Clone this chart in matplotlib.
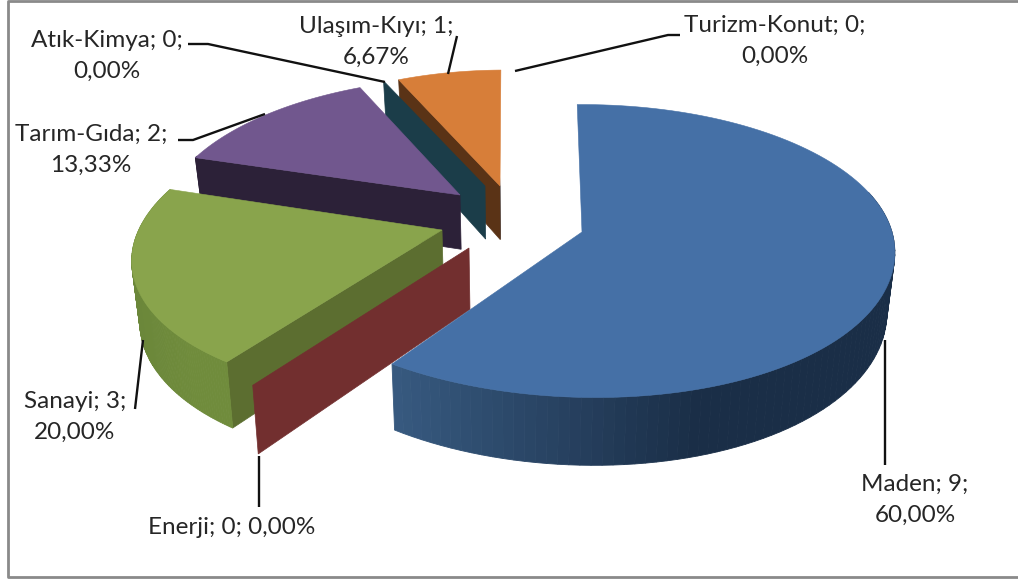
import numpy as np
import matplotlib
matplotlib.use('Agg')
import matplotlib.pyplot as plt
from matplotlib.colors import to_rgb

plt.rcParams['font.family'] = ['Lato', 'DejaVu Sans']

categories = ['Maden', 'Enerji', 'Sanayi', 'Tarım-Gıda', 'Atık-Kimya', 'Ulaşım-Kıyı', 'Turizm-Konut']
values = [9, 0, 3, 2, 0, 1, 0]

# placement of each exploded slice, in pixels
apex = [(582, 232), (469, 248), (442, 230), (460, 195), (485, 186), (500, 186), (500, 186)]
scale = [1.0, 1.04, 1.0, 0.92, 0.90, 0.91, 0.90]
# arc nudges: constant, linear in depth, and bulge toward the viewer
nudge = [(0, 0, 12), (-8, 0, 0), (6.7, -26, 0), (-7.7, -19, 0), (5, 0, 0), (6.5, 0, 0), (0, 0, 0)]
top_colors = ['#4570A6', '#722F2F', '#89A44C', '#71578E', '#1B3D49', '#D77E39', '#2C4D75']
side_colors = ['#1A2E47', '#722F2F', '#5C6E30', '#2C2138', '#1B3D49', '#5A3316', '#2C4D75']
rim_left = ['#37597F', '#722F2F', '#6B873A', '#2C2138', '#1B3D49', '#5A3316', '#2C4D75']
rim_right = ['#1A2E47', '#722F2F', '#708C3C', '#2C2138', '#1B3D49', '#5A3316', '#2C4D75']

RX, RY, PERSP = 310, 144, 0.13
DEPTH, VX, SHRINK = 59, 515, 0.979


def top_point(i, theta):
    u, v = np.sin(theta), -np.cos(theta)
    k = scale[i] / (1 - PERSP * v)
    a, b, c = nudge[i]
    x = apex[i][0] + k * (RX * u + a + b * v + c * np.maximum(v, 0) ** 2)
    y = apex[i][1] + k * RY * v
    return x, y


def low_point(x, y, k):
    return VX + (np.asarray(x) - VX) * SHRINK, np.asarray(y) + DEPTH * k


def depth_k(i, theta):
    return scale[i] / (1 + PERSP * np.cos(theta))


def side_wall(ax, i, theta):
    ax0, ay0 = apex[i]
    x1, y1 = top_point(i, theta)
    lx0, ly0 = low_point(ax0, ay0, scale[i])
    lx1, ly1 = low_point(x1, y1, depth_k(i, theta))
    ax.fill([ax0, x1, lx1, lx0], [ay0, y1, ly1, ly0], color=side_colors[i], lw=0.5, zorder=order[i])


fig = plt.figure(figsize=(10.18, 5.81), dpi=100)
ax = fig.add_axes([0, 0, 1, 1])
ax.set_xlim(0, 1018)
ax.set_ylim(581, 0)
ax.axis('off')

total = sum(values)
edges = np.radians(np.concatenate([[0], np.cumsum(values)]) / total * 360 - 1)
# back slices first, Maden goes on top of everything
order = [7, 6, 5, 4, 3, 2, 1]

for i in range(len(values)):
    t0, t1 = edges[i], edges[i + 1]
    # only the wall at the start of a slice faces us, Maden's faces away
    if i != 0:
        side_wall(ax, i, t0)
    if values[i] == 0:
        continue
    ts = np.linspace(t0, t1, 120)
    xs, ys = top_point(i, ts)
    lx, ly = low_point(xs, ys, depth_k(i, ts))
    # outer rim, only the part facing us, shaded left to right
    c0, c1 = np.array(to_rgb(rim_left[i])), np.array(to_rgb(rim_right[i]))
    xmin, xmax = lx.min(), lx.max()
    for j in range(len(ts) - 1):
        if -np.cos(ts[j]) < -0.3:
            continue
        f = np.clip(((lx[j] - xmin) / (xmax - xmin) - 0.02) / 0.6, 0, 1)
        ax.fill([xs[j], xs[j + 1], lx[j + 1], lx[j]], [ys[j], ys[j + 1], ly[j + 1], ly[j]],
                color=c0 + (c1 - c0) * f, lw=0.6, zorder=order[i])
    ax.fill(np.r_[apex[i][0], xs], np.r_[apex[i][1], ys], color=top_colors[i], lw=0.4, zorder=order[i])

# leader lines
leaders = [
    ([885, 885], [340, 465]),
    ([259, 259], [456, 507]),
    ([143, 135], [340, 409]),
    ([265, 193, 178], [114, 140, 140]),
    ([385, 208, 188], [82, 44, 44]),
    ([448, 457], [74, 36]),
    ([515, 668, 680], [71, 35, 35]),
]
for lx, ly in leaders:
    ax.plot(lx, ly, color='#111111', lw=1.7, zorder=8, solid_capstyle='butt')

labels = [
    (915, 500, 'Maden; 9;\n60,00%'),
    (232, 528, 'Enerji; 0; 0,00%'),
    (75, 417, 'Sanayi; 3;\n20,00%'),
    (91, 150, 'Tarım-Gıda; 2;\n13,33%'),
    (107, 56, 'Atık-Kimya; 0;\n0,00%'),
    (376, 42, 'Ulaşım-Kıyı; 1;\n6,67%'),
    (775, 41, 'Turizm-Konut; 0;\n0,00%'),
]
for x, y, s in labels:
    ax.text(x, y, s, ha='center', va='center', fontsize=17.5, color='#262626', linespacing=1.6, zorder=9)

# chart frame, the right side is cut off in the picture
ax.plot([1018, 8, 8, 1018], [1, 1, 577, 577], color='#8A8A8A', lw=2, zorder=10, clip_on=False)

plt.savefig('out.png', dpi=100)
plt.close()
